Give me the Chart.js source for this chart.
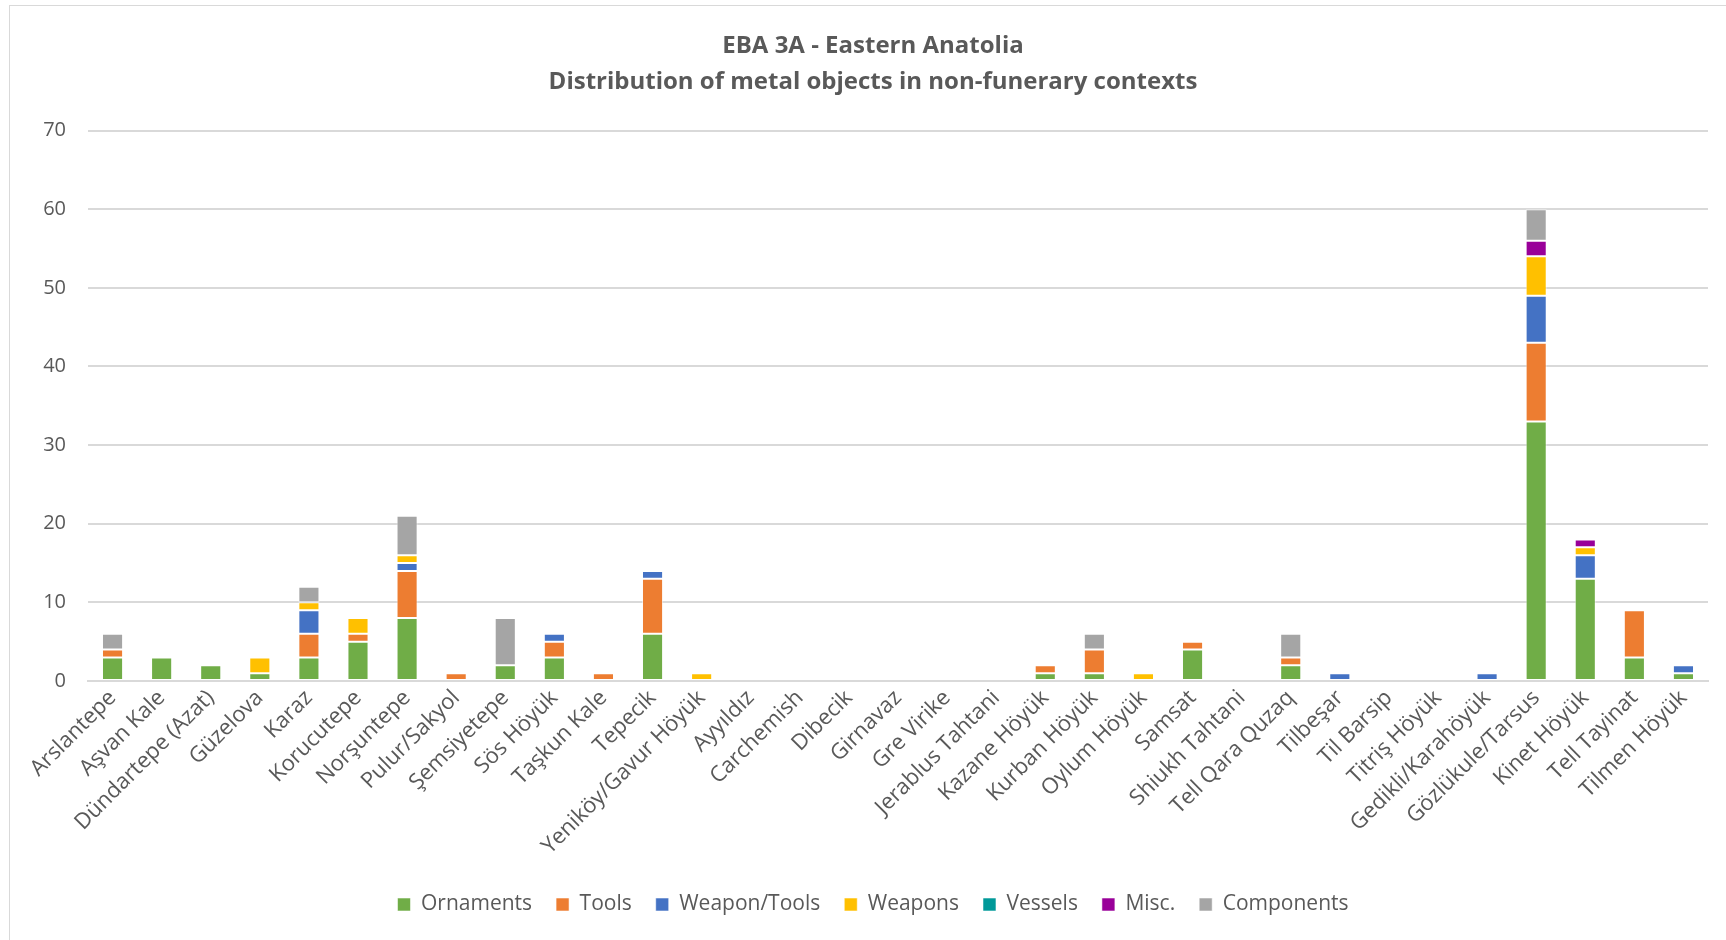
<!DOCTYPE html>
<html>
<head>
<meta charset="utf-8">
<script src="https://cdn.jsdelivr.net/npm/chart.js@4/dist/chart.umd.min.js"></script>
<style>
  html, body { margin: 0; padding: 0; background: #ffffff; }
  #wrap { position: relative; width: 1726px; height: 940px; overflow: hidden; }
  #frame { position: absolute; left: 9px; top: 5px; width: 1740px; height: 960px; border: 1px solid #d9d9d9; box-sizing: border-box; }
  canvas { position: absolute; left: 0; top: 0; }
</style>
</head>
<body>
<div id="wrap">
  <div id="frame"></div>
  <canvas id="chart" width="1726" height="940"></canvas>
</div>
<script>
// Sites (categories along the x axis)
const sites = [
  "Arslantepe", "Aşvan Kale", "Dündartepe (Azat)", "Güzelova", "Karaz", "Korucutepe",
  "Norşuntepe", "Pulur/Sakyol", "Şemsiyetepe", "Sös Höyük", "Taşkun Kale", "Tepecik",
  "Yeniköy/Gavur Höyük", "Ayyıldız", "Carchemish", "Dibecik", "Girnavaz", "Gre Virike",
  "Jerablus Tahtani", "Kazane Höyük", "Kurban Höyük", "Oylum Höyük", "Samsat",
  "Shiukh Tahtani", "Tell Qara Quzaq", "Tilbeşar", "Til Barsip", "Titriş Höyük",
  "Gedikli/Karahöyük", "Gözlükule/Tarsus", "Kinet Höyük", "Tell Tayinat", "Tilmen Höyük"
];

// Object counts per category of metal find, one value per site
const ornaments   = [3,3,2,1,3,5,8,0,2,3,0,6,0,0,0,0,0,0,0,1,1,0,4,0,2,0,0,0,0,33,13,3,1];
const tools       = [1,0,0,0,3,1,6,1,0,2,1,7,0,0,0,0,0,0,0,1,3,0,1,0,1,0,0,0,0,10,0,6,0];
const weaponTools = [0,0,0,0,3,0,1,0,0,1,0,1,0,0,0,0,0,0,0,0,0,0,0,0,0,1,0,0,1,6,3,0,1];
const weapons     = [0,0,0,2,1,2,1,0,0,0,0,0,1,0,0,0,0,0,0,0,0,1,0,0,0,0,0,0,0,5,1,0,0];
const vessels     = [0,0,0,0,0,0,0,0,0,0,0,0,0,0,0,0,0,0,0,0,0,0,0,0,0,0,0,0,0,0,0,0,0];
const misc        = [0,0,0,0,0,0,0,0,0,0,0,0,0,0,0,0,0,0,0,0,0,0,0,0,0,0,0,0,0,2,1,0,0];
const components  = [2,0,0,0,2,0,5,0,6,0,0,0,0,0,0,0,0,0,0,0,2,0,0,0,3,0,0,0,0,4,0,0,0];

// Value axis ticks
const yTicks = [0, 10, 20, 30, 40, 50, 60, 70];

const titleLines = ["EBA 3A - Eastern Anatolia", "Distribution of metal objects in non-funerary contexts"];

const textColor = "#595959";
const gridColor = "#d9d9d9";
const fontFamily = "'Open Sans', 'Noto Sans', sans-serif";

function series(label, data, color) {
  return {
    label: label,
    data: data,
    backgroundColor: color,
    borderColor: "rgba(255,255,255,0.55)",
    borderWidth: 1,
    borderSkipped: false,
    categoryPercentage: 1.0,
    barPercentage: 0.43
  };
}

new Chart(document.getElementById("chart"), {
  type: "bar",
  data: {
    labels: sites,
    datasets: [
      series("Ornaments", ornaments, "#70ad47"),
      series("Tools", tools, "#ed7d31"),
      series("Weapon/Tools", weaponTools, "#4472c4"),
      series("Weapons", weapons, "#ffc000"),
      series("Vessels", vessels, "#009999"),
      series("Misc.", misc, "#990099"),
      series("Components", components, "#a5a5a5")
    ]
  },
  options: {
    responsive: false,
    animation: false,
    layout: { padding: { left: 38, right: 18, top: 0, bottom: 15 } },
    plugins: {
      title: {
        display: true,
        text: titleLines,
        color: textColor,
        font: { family: fontFamily, size: 24, weight: "bold", lineHeight: 1.47 },
        padding: { top: 29, bottom: 31 }
      },
      legend: {
        position: "bottom",
        labels: {
          color: textColor,
          font: { family: fontFamily, size: 21 },
          boxWidth: 13,
          boxHeight: 13,
          padding: 24
        }
      },
      tooltip: { enabled: false }
    },
    scales: {
      x: {
        stacked: true,
        offset: true,
        grid: { display: false, drawTicks: false },
        border: { color: gridColor, width: 2 },
        ticks: {
          color: textColor,
          font: { family: fontFamily, size: 22 },
          maxRotation: 45,
          minRotation: 45,
          autoSkip: false,
          padding: 4
        },
        afterFit: function (scale) { scale.height = 189; }
      },
      y: {
        stacked: true,
        min: 0,
        max: 70,
        afterBuildTicks: function (scale) { scale.ticks = yTicks.map(v => ({ value: v })); },
        grid: { color: gridColor, lineWidth: 2, drawTicks: false },
        border: { display: false },
        ticks: {
          color: textColor,
          font: { family: fontFamily, size: 20 },
          padding: 22
        },
        afterFit: function (scale) { scale.width = 50; }
      }
    }
  }
});
</script>
</body>
</html>
